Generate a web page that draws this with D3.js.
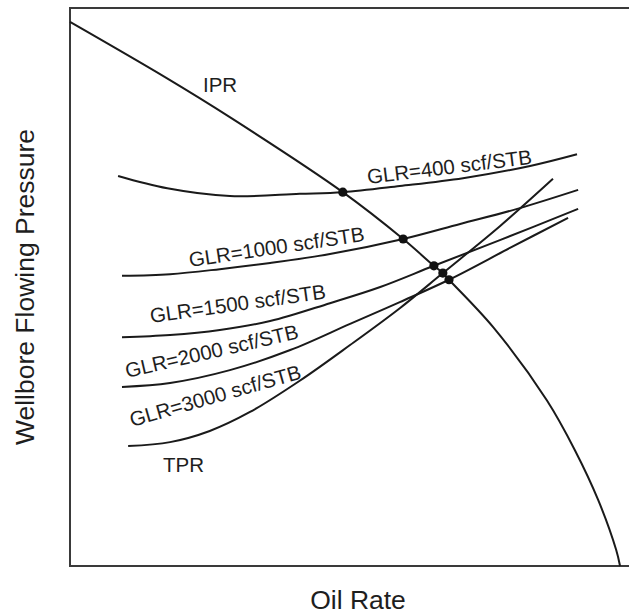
<!DOCTYPE html>
<html lang="en">
<head>
<meta charset="UTF-8">
<title>IPR / TPR Nodal Analysis</title>
<script src="https://d3js.org/d3.v7.min.js"></script>
<style>
  body { margin: 0; background: #fff; }
  svg text { font-family: "Liberation Sans", Arial, sans-serif; fill: #1e1e1e; }
</style>
</head>
<body>
<svg id="chart" width="629" height="616"></svg>
<script>
// IPR curve (rate, pressure in relative units 0-100)
const iprRate = [0, 17.0, 28.8, 48.8, 59.6, 65.1, 66.7, 67.8, 75.7, 85.3, 90.3, 94.5, 97.7, 98.4];
const iprPressure = [97.5, 87.6, 80.3, 67.0, 58.6, 53.8, 52.5, 51.3, 42.8, 29.7, 20.8, 11.8, 2.9, 0];

// TPR curves, one per gas-liquid ratio
const glrValues = [400, 1000, 1500, 2000, 3000];
const tprRate = [
  [8.6, 17.4, 28.6, 41.1, 48.8, 59.0, 70.3, 82.3, 90.7],
  [9.3, 17.9, 26.8, 35.8, 46.5, 59.6, 69.8, 80.0, 90.9],
  [9.3, 17.9, 26.8, 35.8, 46.5, 55.5, 65.1, 76.9, 90.9],
  [9.3, 17.9, 28.6, 39.4, 50.1, 59.0, 67.8, 78.7, 89.1],
  [10.4, 17.9, 25.0, 32.2, 41.1, 50.1, 59.0, 66.7, 76.9, 86.4]
];
const tprPressure = [
  [69.9, 67.7, 66.3, 66.7, 67.0, 68.1, 69.5, 71.7, 73.8],
  [52.0, 52.3, 53.2, 54.3, 55.9, 58.6, 61.3, 64.0, 67.4],
  [41.0, 41.4, 42.3, 43.9, 47.1, 50.0, 53.8, 58.4, 64.0],
  [32.1, 32.8, 35.1, 38.7, 43.4, 47.3, 51.3, 57.0, 62.4],
  [21.5, 22.2, 24.2, 27.6, 33.2, 39.6, 46.2, 52.5, 60.9, 69.4]
];

// operating points (IPR / TPR intersections)
const opRate = [48.8, 59.6, 65.1, 66.7, 67.8];
const opPressure = [67.0, 58.6, 53.8, 52.5, 51.3];

const svg = d3.select("#chart");
const plotLeft = 70, plotRight = 629, plotTop = 8, plotBottom = 566;

const x = d3.scaleLinear().domain([0, 100]).range([plotLeft, plotRight]);
const y = d3.scaleLinear().domain([0, 100]).range([plotBottom, plotTop]);

// frame (right side is cut off in the original)
svg.append("path")
  .attr("d", `M${plotRight},${plotTop}H${plotLeft}V${plotBottom}H${plotRight}`)
  .attr("fill", "none")
  .attr("stroke", "#3a3a3a")
  .attr("stroke-width", 2);

const line = d3.line()
  .x(d => x(d[0]))
  .y(d => y(d[1]))
  .curve(d3.curveCatmullRom.alpha(0.5));

// IPR
svg.append("path")
  .datum(iprRate.map((r, i) => [r, iprPressure[i]]))
  .attr("d", line)
  .attr("fill", "none")
  .attr("stroke", "#1a1a1a")
  .attr("stroke-width", 2);

// TPR curves
glrValues.forEach((g, k) => {
  svg.append("path")
    .datum(tprRate[k].map((r, i) => [r, tprPressure[k][i]]))
    .attr("d", line)
    .attr("fill", "none")
    .attr("stroke", "#1a1a1a")
    .attr("stroke-width", 2);
});

// intersection dots
svg.selectAll(".op")
  .data(opRate.map((r, i) => [r, opPressure[i]]))
  .enter().append("circle")
  .attr("class", "op")
  .attr("cx", d => x(d[0]))
  .attr("cy", d => y(d[1]))
  .attr("r", 4.6)
  .attr("fill", "#111");

// curve labels
const labelPos = [
  { px: 368, py: 184, rot: -7 },
  { px: 190, py: 267, rot: -8.5 },
  { px: 151, py: 323, rot: -8 },
  { px: 127, py: 378, rot: -13 },
  { px: 132, py: 427, rot: -16 }
];
glrValues.forEach((g, k) => {
  const p = labelPos[k];
  svg.append("text")
    .attr("transform", `translate(${p.px},${p.py}) rotate(${p.rot})`)
    .attr("font-size", 20.5)
    .text(`GLR=${g} scf/STB`);
});

svg.append("text")
  .attr("x", 203).attr("y", 92)
  .attr("font-size", 20.5)
  .text("IPR");

svg.append("text")
  .attr("x", 163).attr("y", 472)
  .attr("font-size", 20.5)
  .text("TPR");

// axis titles
svg.append("text")
  .attr("x", 358).attr("y", 609)
  .attr("text-anchor", "middle")
  .attr("font-size", 26.5)
  .text("Oil Rate");

svg.append("text")
  .attr("transform", `translate(34,${(plotTop + plotBottom) / 2}) rotate(-90)`)
  .attr("text-anchor", "middle")
  .attr("font-size", 26.5)
  .text("Wellbore Flowing Pressure");
</script>
</body>
</html>
